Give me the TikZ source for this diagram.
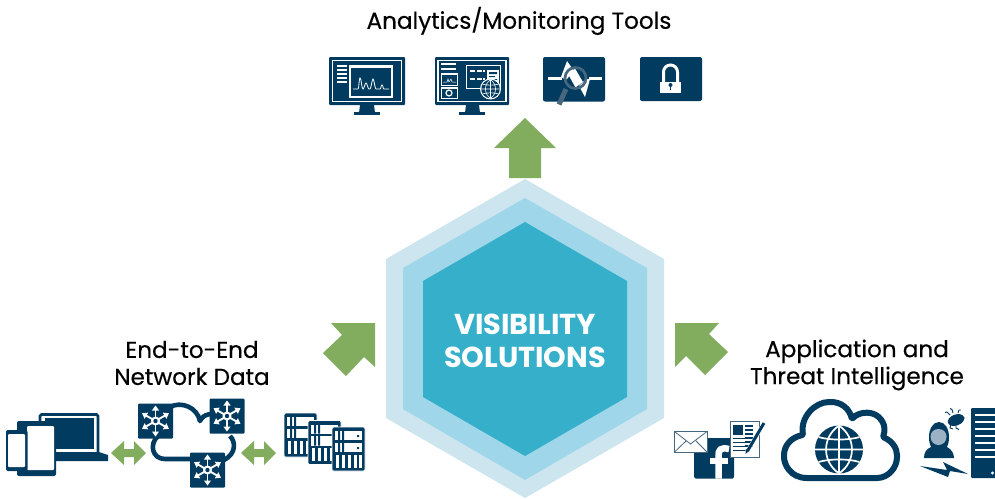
\documentclass[tikz,border=0pt]{standalone}
\usepackage{fontspec}
\setmainfont{Poppins}
\newfontfamily\lblfont{Poppins}[FakeBold=0.35]
\definecolor{navy}{HTML}{023B60}
\definecolor{slate}{HTML}{46677E}
\definecolor{face}{HTML}{9BB1C4}
\definecolor{grn}{HTML}{82AD5F}
\definecolor{hexa}{HTML}{CCE5EF}
\definecolor{hexb}{HTML}{9FD6E9}
\definecolor{hexc}{HTML}{36AFCA}
\tikzset{
  lbl/.style={font=\lblfont\fontsize{23.1}{27}\selectfont,text=black,align=center,inner sep=0pt},
  vis/.style={font=\fontsize{28.8}{32.5}\selectfont\bfseries,text=white,align=center,inner sep=0pt},
}
\newcommand{\snowflake}[2]{%
 \begin{scope}[shift={(#1,#2)}]
  \fill[navy,rounded corners=1pt] (-17.5,-17.5) rectangle (17.5,17.5);
  \foreach \a in {30,90,150,210,270,330}{
   \draw[white,line width=1.9pt,rotate=\a] (0,0) -- (12,0);
   \fill[white,rotate=\a] (15.5,0) -- (10.5,3.6) -- (10.5,-3.6) -- cycle;
  }
  \fill[white] (0,0) circle (4.5);
  \fill[navy] (0,0) circle (2.2);
 \end{scope}}
\newcommand{\rackicon}[2]{%
 \begin{scope}[shift={(#1,#2)}]
  \fill[navy,rounded corners=1.5pt,draw=white,line width=.7pt] (0,0) rectangle (33,44);
  \fill[white] (3,4) rectangle (30,13);
  \fill[white] (3,15.5) rectangle (30,25);
  \foreach \x in {3.5,9.5,15.5,21.5,26.5}{\fill[white] (\x,27.5) rectangle +(3.4,13);}
  \fill[navy] (6,4) rectangle (8,13) (10,4) rectangle (12,13);
  \fill[navy] (6,15.5) rectangle (8,25) (10,15.5) rectangle (12,25);
  \fill[navy] (25,8) rectangle (27,10) (25,20) rectangle (27,22);
 \end{scope}}
\newcommand{\globeicon}[4]{%
 \begin{scope}[shift={(#1,#2)},scale=#3]
  \fill[navy] (0,0) circle (1);
  \draw[white,line width=#4pt] (-1,0) -- (1,0) (-0.85,-0.52) .. controls (-0.4,-0.38) and (0.4,-0.38) .. (0.85,-0.52) (-0.85,0.52) .. controls (-0.4,0.38) and (0.4,0.38) .. (0.85,0.52);
  \draw[white,line width=#4pt] (0,-1) -- (0,1) (0,-1) .. controls (-0.72,-0.5) and (-0.72,0.5) .. (0,1) (0,-1) .. controls (0.72,-0.5) and (0.72,0.5) .. (0,1);
 \end{scope}}
\begin{document}
\begin{tikzpicture}[x=1pt,y=-1pt]
\useasboundingbox (0,0) rectangle (995,498);
% hexagons
\fill[hexa] (525,179) -- (664,259) -- (664,418) -- (525,498) -- (386,418) -- (386,259) -- cycle;
\fill[hexb] (525,198) -- (647,268) -- (647,409) -- (525,480) -- (403,409) -- (403,268) -- cycle;
\fill[hexc] (525,222) -- (627,281) -- (627,397) -- (525,456) -- (423,397) -- (423,281) -- cycle;
\node[vis] (vis) at (525,341) {VISIBILITY\\SOLUTIONS};
% labels
\node[lbl] (top) at (519,21) {Analytics/Monitoring Tools};
\node[lbl] (left) at (192,363) {End-to-End\\Network Data};
\node[lbl] (right) at (857,365) {Application and\\Threat Intelligence};
% green arrows
\fill[grn] (525,118) -- (556,148) -- (541,148) -- (541,178) -- (509,178) -- (509,148) -- (494,148) -- cycle;
\fill[grn] (375,323) -- (375,367) -- (364,357) -- (346,376) -- (323,353) -- (342,335) -- (331,323) -- cycle;
\fill[grn] (675,323) -- (675,367) -- (686,356) -- (705,375) -- (728,352) -- (709,334) -- (719,323) -- cycle;
\fill[grn] (111,453) -- (124,441) -- (124,449) -- (134,449) -- (134,441) -- (146,453) -- (134,465) -- (134,457) -- (124,457) -- (124,465) -- cycle;
\fill[grn] (241,453) -- (254,441) -- (254,449) -- (264,449) -- (264,441) -- (276,453) -- (264,465) -- (264,457) -- (254,457) -- (254,465) -- cycle;
% monitor 1
\fill[navy,rounded corners=1pt] (329,57) rectangle (405,105);
\draw[white,line width=1.1pt] (332.5,60.5) rectangle (401.5,101.5);
\fill[white] (349,65) rectangle (393,98);
\fill[navy] (351,67.5) rectangle (391,95.5);
\foreach \y in {65,69,73,77,81}{\fill[white] (337,\y) rectangle (347,\y+1.6);}
\draw[white,line width=.8pt] (353,89) -- (358,89) .. controls (359,89) and (359,78) .. (360,78) .. controls (361.5,78) and (361.5,89) .. (363,89) .. controls (364,89) and (365,83) .. (366,83) .. controls (367,83) and (368,89) .. (369,89) -- (370,89) .. controls (371,89) and (372,79) .. (373,79) .. controls (374,79) and (375,89) .. (376,89) -- (380,89) .. controls (381,89) and (381,85) .. (382,85) .. controls (383,85) and (383,89) .. (384,89) -- (389,89);
\fill[navy] (360,105) -- (374,105) -- (375,113) -- (359,113) -- cycle;
\fill[navy] (354,112) rectangle (380,115);
% monitor 2
\fill[navy,rounded corners=1pt] (435,57) rectangle (509,105);
\draw[white,line width=1.1pt] (438,60.5) rectangle (506,101.5);
\foreach \y in {63,68}{\fill[white] (441,\y) rectangle (456,\y+1.6);}
\fill[white] (441,73) rectangle (458,75);
\draw[white,line width=.8pt] (441.5,73.5) rectangle (457.5,85);
\draw[white,line width=.5pt] (443,82) -- (447,82) -- (448,79) -- (449,82) -- (451,79) -- (452,82) -- (456,82);
\fill[white] (441,86.5) rectangle (458,88.3);
\draw[white,line width=.8pt] (441.5,88) rectangle (457.5,98);
\draw[white,line width=1.2pt] (449,93) circle (3);
\draw[white,line width=.9pt,fill=navy] (466.5,65.5) rectangle (500.5,88.5);
\foreach \y in {71,79}{\draw[white,line width=1.4pt,dash pattern=on 5pt off 1.5pt] (470,\y) -- (485,\y);}
\fill[white] (487,70) rectangle (499,92);
\fill[navy] (489,72) rectangle (497,74) (489,76) rectangle (495,77) (489,79) rectangle (497,80);
\fill[white] (490.5,89) circle (10.5);
\globeicon{490.5}{89}{9.3}{.6}
\fill[navy] (466,105) -- (479,105) -- (480,113) -- (465,113) -- cycle;
\fill[navy] (459,112) rectangle (485,115);
% analyzer
\fill[navy,rounded corners=2pt] (543,57) rectangle (605,101.5);
\fill[white] (561,77) -- (567,61) -- (574,71) -- (566,80) -- cycle;
\draw[white,line width=2.2pt] (548,78.5) -- (562,78.5);
\draw[white,line width=2.2pt] (589,78.5) -- (602,78.5);
\fill[white] (579,86) -- (585,97) -- (590,79) -- (586,79) -- cycle;
\fill[white] (575,68.5) -- (568,74) -- (575.5,87.5) -- (583,82) -- cycle;
\draw[slate,line width=2.7pt] (575.5,78) circle (10.5);
\draw[slate,line width=5pt] (566,89) -- (559,104.5);
% lock
\fill[navy,rounded corners=2pt] (640,57) rectangle (702,101);
\draw[white,line width=3pt] (663.5,84) -- (663.5,72) arc (180:360:7) -- (677.5,84);
\fill[white] (660,82) rectangle (681,93);
\fill[navy] (670.5,85) circle (2);
\fill[navy] (669.7,85) rectangle (671.3,89.5);
% devices
\draw[navy,line width=2.6pt,rounded corners=1.5pt] (40,449) -- (40,414.5) -- (98,414.5) -- (98,452);
\fill[navy] (45,418) rectangle (94,449);
\fill[navy] (53,452) -- (99,452) -- (108,455) -- (108,461) -- (53,461) -- cycle;
\fill[navy,rounded corners=2pt] (17,421) rectangle (56,476);
\fill[white,rounded corners=1pt] (27,426) rectangle (54,470);
\fill[navy,rounded corners=2pt] (6,430) rectangle (27.5,471);
\fill[white,rounded corners=1pt] (8,434) rectangle (25,467);
% cloud 1
\draw[navy,line width=4.6pt,line join=round] (170,407) .. controls (181,401) and (197,407) .. (200,421) .. controls (203,414) and (212,412) .. (222,416) (230,436) .. controls (236,442) and (236,454) .. (224,460) (192,459) -- (165,459) .. controls (152,459) and (149,444) .. (158,436);
\snowflake{155.5}{421}\snowflake{227}{416}\snowflake{207.5}{470}
% racks
\rackicon{284}{413}\rackicon{308}{420.5}\rackicon{332}{427}
% app icons
\fill[navy,rounded corners=1.5pt] (694,438) rectangle (734,478.5);
\draw[white,line width=6.5pt] (729,449) .. controls (720,447) and (718.5,450) .. (718.5,456) -- (718.5,478.5);
\draw[white,line width=6pt] (710,460.5) -- (728,460.5);
\draw[slate,line width=.8pt,fill=white] (674.5,431.5) rectangle (707,452);
\draw[slate,line width=.8pt] (674.5,431.5) -- (690.5,444) -- (707,431.5) (674.5,452) -- (686,441) (707,452) -- (696,441);
\draw[slate,line width=.8pt,fill=white] (730.5,421.5) rectangle (759.5,457.5);
\fill[navy] (733,425) rectangle (743,435);
\foreach \y in {425,429,433,437,441,445}{\fill[navy] (745,\y) rectangle (753,\y+1.5);}
\foreach \y in {438,442,446,450}{\fill[navy] (733,\y) rectangle (747,\y+1.3);}
\draw[white,line width=4pt] (747,452) -- (763,425);
\draw[navy,line width=3pt] (747.5,451) -- (764,423);
\fill[navy] (745.5,454) -- (746,449) -- (749,451) -- cycle;
% cloud 2
\draw[navy,line width=6pt,line join=round,rounded corners=1pt] (808,478) .. controls (790,478) and (784,464) .. (784,456) .. controls (784,445) and (792,437) .. (803,435) .. controls (800,417) and (815,402) .. (830,402) .. controls (841,402) and (849,408) .. (852,419) .. controls (859,411) and (875,410) .. (882,421) .. controls (885,426) and (885,431) .. (883,437) .. controls (892,441) and (897,448) .. (897,456) .. controls (897,468) and (888,478) .. (876,478) -- cycle;
\globeicon{839}{449.5}{24}{1.7}
% threat
\fill[navy] (939,422) .. controls (933,422) and (929,429) .. (929,437) .. controls (929,442) and (930,445) .. (931,447) .. controls (926,449) and (924,453) .. (924,458) -- (954,458) .. controls (954,453) and (951,449) .. (947,447) .. controls (948,445) and (949,442) .. (949,437) .. controls (949,429) and (945,422) .. (939,422) -- cycle;
\fill[face] (938.5,429) .. controls (943,429) and (946.5,432) .. (946.5,436.5) .. controls (946.5,441.5) and (943,445) .. (938.5,445) .. controls (934,445) and (930.5,441.5) .. (930.5,436.5) .. controls (930.5,432) and (934,429) .. (938.5,429) -- cycle;
\fill[navy] (920,466) -- (947,470) -- (943,462) -- (968,474) -- (950,471) -- (948,477) -- cycle;
\fill[navy,rotate around={20:(956,420)}] (956,420) ellipse (8.5 and 5.5);
\draw[navy,line width=.9pt] (950,415) -- (947,412) -- (945,412.5) (953,413) -- (952,409.5) -- (950,408.5) (958,413) -- (959,410) -- (961,410) (962,418) -- (965,418) (951,424) -- (950,428) -- (953,429) (956,425) -- (956,428) -- (959,429.5);
\fill[navy,rounded corners=1pt] (971,408) rectangle (998,478);
\foreach \y in {413.5,420.5,427.5,434.5,441.5,448.5,455.5}{\fill[white] (975,\y) rectangle (998,\y+2.7);}
\fill[white] (992.5,473) circle (1.6);
\end{tikzpicture}
\end{document}
